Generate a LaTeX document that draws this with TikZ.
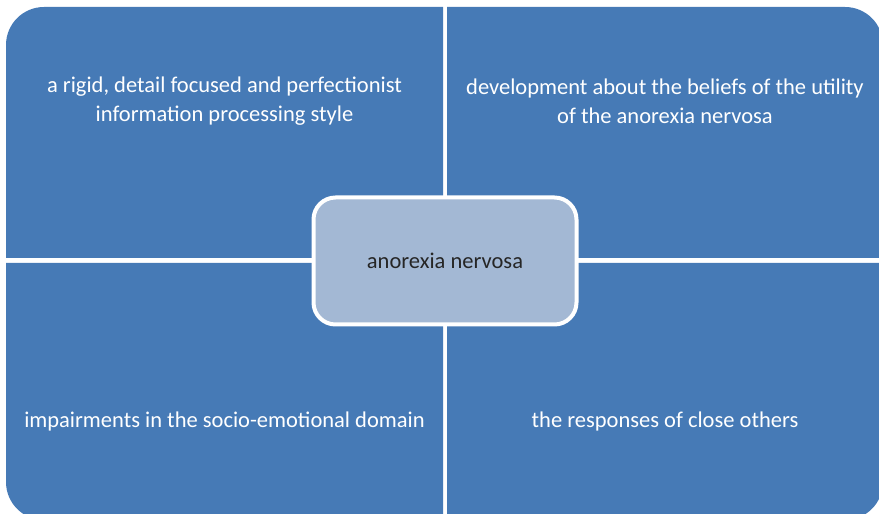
\documentclass[tikz,border=0pt]{standalone}
\usepackage{fontspec}
\setmainfont{Carlito}
\definecolor{quadblue}{RGB}{70,122,182}
\definecolor{hubblue}{RGB}{163,184,212}
\definecolor{hubtext}{RGB}{38,38,38}

\begin{document}
\begin{tikzpicture}[x=1pt,y=1pt,
  quad/.style={fill=quadblue},
  quadtext/.style={text=white,align=center,font=\fontsize{22.5}{29}\selectfont},
  hub/.style={draw=white,line width=4pt,fill=hubblue,rounded corners=22pt,
    minimum width=263pt,minimum height=127pt,text=hubtext,
    font=\fontsize{22.5}{29}\selectfont}]
\useasboundingbox (0,0) rectangle (879,514);
\clip (0,0) rectangle (879,514);

% four quarters, rounded on the outer corner only
\fill[quad] (6,256) -- (6,469) arc[start angle=180,end angle=90,radius=38] -- (443,507) -- (443,256) -- cycle;
\fill[quad] (447,507) -- (845,507) arc[start angle=90,end angle=0,radius=38] -- (883,256) -- (447,256) -- cycle;
\fill[quad] (6,251) -- (443,251) -- (443,-6) -- (44,-6) arc[start angle=270,end angle=180,radius=38] -- cycle;
\fill[quad] (447,251) -- (883,251) -- (883,32) arc[start angle=0,end angle=-90,radius=38] -- (447,-6) -- cycle;

\node[quadtext] (rigid) at (224.5,413) {a rigid, detail focused and perfectionist\\information processing style};
\node[quadtext] (beliefs) at (665,413) {development about the beliefs of the utility\\of the anorexia nervosa};
\node[quadtext] (socio) at (224.5,92) {impairments in the socio-emotional domain};
\node[quadtext] (others) at (665,92) {the responses of close others};

% centre box
\node[hub] (hub) at (445,253) {anorexia nervosa};
\end{tikzpicture}
\end{document}
